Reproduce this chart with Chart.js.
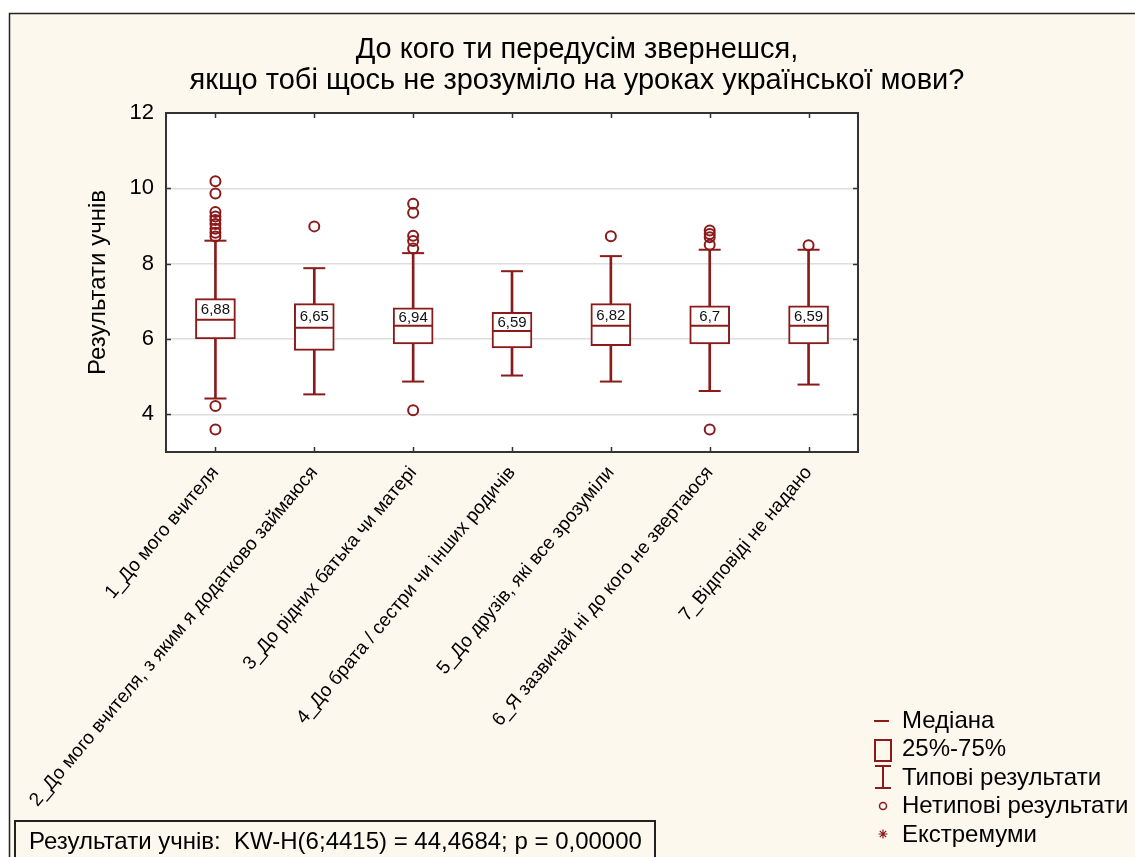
<!DOCTYPE html>
<html>
<head>
<meta charset="utf-8">
<script src="https://cdn.jsdelivr.net/npm/chart.js@4.4.1/dist/chart.umd.min.js"></script>
<style>
html, body { margin: 0; padding: 0; background: #fff; }
canvas { display: block; }
</style>
</head>
<body>
<canvas id="grafico" width="1135" height="857"></canvas>
<script>
const categorias = [
    '1_До мого вчителя',
    '2_До мого вчителя, з яким я додатково займаюся',
    '3_До рідних батька чи матері',
    '4_До брата / сестри чи інших родичів',
    '5_До друзів, які все зрозуміли',
    '6_Я зазвичай ні до кого не звертаюся',
    '7_Відповіді не надано'
];
const cuartil1 = [6.00, 5.70, 5.87, 5.76, 5.82, 5.87, 5.87];
const cuartil3 = [7.07, 6.94, 6.83, 6.71, 6.94, 6.88, 6.88];
const medianas = [6.51, 6.30, 6.35, 6.21, 6.35, 6.35, 6.35];
const bigoteInf = [4.42, 4.53, 4.87, 5.03, 4.87, 4.62, 4.79];
const bigoteSup = [8.61, 7.88, 8.28, 7.80, 8.20, 8.37, 8.37];
const medias = [6.88, 6.65, 6.94, 6.59, 6.82, 6.7, 6.59];
const atipicos = [
    [10.19, 9.86, 9.37, 9.25, 9.16, 9.05, 8.93, 8.82, 8.72, 4.22, 3.60],
    [8.99],
    [9.59, 9.35, 8.74, 8.60, 8.40, 4.11],
    [],
    [8.73],
    [8.88, 8.79, 8.70, 8.50, 3.60],
    [8.49]
];
const marcasY = [4, 6, 8, 10, 12];

const MARRON = '#8b1a1a';
const FONDO = '#fdf8ee';
const FUENTE = '"Liberation Sans", Arial, sans-serif';

const puntosBigotes = [];
categorias.forEach((c, i) => {
    puntosBigotes.push({ x: c, y: bigoteInf[i] });
    puntosBigotes.push({ x: c, y: bigoteSup[i] });
});
const puntosAtipicos = [];
atipicos.forEach((lista, i) => {
    lista.forEach(v => puntosAtipicos.push({ x: categorias[i], y: v }));
});

const decoracion = {
    id: 'decoracion',
    beforeDraw(chart) {
        const ctx = chart.ctx;
        const a = chart.chartArea;
        ctx.save();
        ctx.fillStyle = '#ffffff';
        ctx.fillRect(0, 0, chart.width, chart.height);
        ctx.fillStyle = FONDO;
        ctx.fillRect(10, 13, chart.width - 10, chart.height - 13);
        ctx.strokeStyle = '#222';
        ctx.lineWidth = 1.5;
        ctx.beginPath();
        ctx.moveTo(9.5, chart.height);
        ctx.lineTo(9.5, 13.5);
        ctx.lineTo(chart.width, 13.5);
        ctx.stroke();
        ctx.fillStyle = '#ffffff';
        ctx.fillRect(a.left, a.top, a.right - a.left, a.bottom - a.top);
        ctx.restore();
    },
    afterDatasetsDraw(chart) {
        const ctx = chart.ctx;
        const x = chart.scales.x;
        const y = chart.scales.y;
        ctx.save();
        ctx.font = '15px ' + FUENTE;
        ctx.fillStyle = '#111';
        ctx.textAlign = 'center';
        ctx.textBaseline = 'middle';
        medias.forEach((m, i) => {
            const px = x.getPixelForValue(i);
            const py = (y.getPixelForValue(cuartil3[i]) + y.getPixelForValue(medianas[i])) / 2 + 1;
            ctx.fillText(String(m).replace('.', ','), px, py);
        });
        ctx.restore();
    },
    afterDraw(chart) {
        const ctx = chart.ctx;
        const a = chart.chartArea;
        const x = chart.scales.x;
        const y = chart.scales.y;
        ctx.save();
        // marco del gráfico y marcas interiores
        ctx.strokeStyle = '#333';
        ctx.lineWidth = 2;
        ctx.strokeRect(a.left, a.top, a.right - a.left, a.bottom - a.top);
        ctx.beginPath();
        marcasY.forEach(v => {
            if (v >= 12) return;
            const py = Math.round(y.getPixelForValue(v)) + 0.5;
            ctx.moveTo(a.left, py); ctx.lineTo(a.left + 5, py);
            ctx.moveTo(a.right - 5, py); ctx.lineTo(a.right, py);
        });
        categorias.forEach((c, i) => {
            const px = Math.round(x.getPixelForValue(i)) + 0.5;
            ctx.moveTo(px, a.top); ctx.lineTo(px, a.top + 5);
            ctx.moveTo(px, a.bottom - 5); ctx.lineTo(px, a.bottom);
        });
        ctx.lineWidth = 1.5;
        ctx.stroke();

        // título
        ctx.fillStyle = '#000';
        ctx.font = '29px ' + FUENTE;
        ctx.textAlign = 'center';
        ctx.textBaseline = 'alphabetic';
        ctx.fillText('До кого ти передусім звернешся,', 577, 58);
        ctx.fillText('якщо тобі щось не зрозуміло на уроках української мови?', 577, 89);

        // leyenda
        ctx.strokeStyle = MARRON;
        ctx.lineWidth = 2;
        ctx.beginPath();
        ctx.moveTo(874, 721); ctx.lineTo(889, 721);
        ctx.stroke();
        ctx.strokeRect(875, 740, 16, 21);
        ctx.beginPath();
        ctx.moveTo(875, 766); ctx.lineTo(891, 766);
        ctx.moveTo(883, 766); ctx.lineTo(883, 788);
        ctx.moveTo(875, 788); ctx.lineTo(891, 788);
        ctx.stroke();
        ctx.lineWidth = 1.5;
        ctx.beginPath();
        ctx.arc(883, 806, 3.5, 0, Math.PI * 2);
        ctx.stroke();
        ctx.lineWidth = 1.2;
        ctx.beginPath();
        for (let k = 0; k < 4; k++) {
            const ang = k * Math.PI / 4;
            ctx.moveTo(883 - 4.5 * Math.cos(ang), 834 - 4.5 * Math.sin(ang));
            ctx.lineTo(883 + 4.5 * Math.cos(ang), 834 + 4.5 * Math.sin(ang));
        }
        ctx.stroke();

        ctx.fillStyle = '#000';
        ctx.font = '24px ' + FUENTE;
        ctx.textAlign = 'left';
        ['Медіана', '25%-75%', 'Типові результати', 'Нетипові результати', 'Екстремуми']
            .forEach((t, k) => ctx.fillText(t, 902, 728 + k * 28.4));

        // recuadro con la prueba
        ctx.strokeStyle = '#222';
        ctx.lineWidth = 2;
        ctx.strokeRect(15, 821, 640, 60);
        ctx.font = '24px ' + FUENTE;
        ctx.fillText('Результати учнів:  KW-H(6;4415) = 44,4684; p = 0,00000', 29, 849);
        ctx.restore();
    }
};

const ctx = document.getElementById('grafico').getContext('2d');
new Chart(ctx, {
    type: 'bar',
    data: {
        labels: categorias,
        datasets: [
            {
                label: 'Типові результати',
                data: categorias.map((c, i) => [bigoteInf[i], bigoteSup[i]]),
                backgroundColor: MARRON,
                borderWidth: 0,
                barThickness: 2,
                grouped: false,
                order: 5
            },
            {
                label: '25%-75%',
                data: categorias.map((c, i) => [cuartil1[i], cuartil3[i]]),
                backgroundColor: '#ffffff',
                borderColor: MARRON,
                borderWidth: 2,
                borderSkipped: false,
                barThickness: 40,
                grouped: false,
                order: 4
            },
            {
                type: 'line',
                label: 'Медіана',
                data: categorias.map((c, i) => ({ x: c, y: medianas[i] })),
                showLine: false,
                pointStyle: 'line',
                pointRadius: 19,
                pointBorderWidth: 2,
                borderColor: MARRON,
                pointBorderColor: MARRON,
                order: 3
            },
            {
                type: 'line',
                label: 'bigotes',
                data: puntosBigotes,
                showLine: false,
                pointStyle: 'line',
                pointRadius: 11,
                pointBorderWidth: 2,
                borderColor: MARRON,
                pointBorderColor: MARRON,
                order: 2
            },
            {
                type: 'line',
                label: 'Нетипові результати',
                data: puntosAtipicos,
                showLine: false,
                pointStyle: 'circle',
                pointRadius: 5,
                pointBorderWidth: 2,
                borderColor: MARRON,
                pointBorderColor: MARRON,
                pointBackgroundColor: 'rgba(0,0,0,0)',
                order: 1
            }
        ]
    },
    options: {
        responsive: false,
        animation: false,
        events: [],
        layout: { padding: { left: 10, right: 277, top: 113, bottom: 45 } },
        plugins: {
            legend: { display: false },
            tooltip: { enabled: false },
            title: { display: false }
        },
        scales: {
            x: {
                offset: true,
                grid: { display: false, drawTicks: false },
                border: { display: false },
                ticks: {
                    autoSkip: false,
                    minRotation: 50,
                    maxRotation: 50,
                    padding: 10,
                    color: '#000',
                    font: { family: FUENTE, size: 19 }
                },
                afterFit: s => { s.height = 360; }
            },
            y: {
                min: 3,
                max: 12,
                afterBuildTicks: s => { s.ticks = marcasY.map(v => ({ value: v })); },
                grid: {
                    color: c => (c.tick && c.tick.value < 12 ? '#dedede' : 'rgba(0,0,0,0)'),
                    lineWidth: 1.5,
                    drawTicks: false
                },
                border: { display: false },
                ticks: {
                    padding: 12,
                    color: '#000',
                    font: { family: FUENTE, size: 22 }
                },
                title: {
                    display: true,
                    text: 'Результати учнів',
                    color: '#000',
                    font: { family: FUENTE, size: 24 },
                    padding: { top: 74, bottom: 0 }
                },
                afterFit: s => { s.width = 156; }
            }
        }
    },
    plugins: [decoracion]
});
</script>
</body>
</html>
